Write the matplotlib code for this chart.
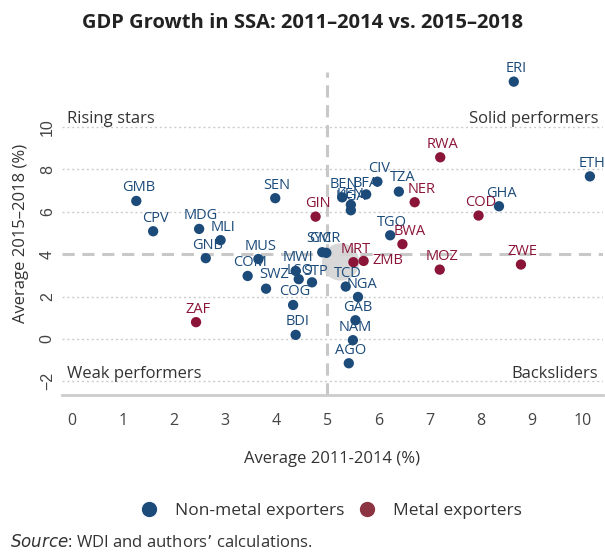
import matplotlib
matplotlib.use('Agg')
import matplotlib.pyplot as plt
from matplotlib.lines import Line2D

plt.rcParams['font.family'] = ['Open Sans', 'DejaVu Sans']

_BLUE = '#1c4b7a'
_RED = '#8a1538'
_RED_LEG = '#8c3441'
_TEXT = '#333333'
_TICK = '#444444'
_GRID = '#cccccc'
_REF = '#c8c8c8'

# country data: average growth 2011-2014 (x) vs 2015-2018 (y)
non_metal = ['ERI', 'ETH', 'GHA', 'CIV', 'TZA', 'BFA', 'BEN', 'KEN', 'UGA',
             'SEN', 'GMB', 'CPV', 'MDG', 'MLI', 'GNB', 'TGO', 'SYC', 'CMR',
             'MUS', 'COM', 'SWZ', 'MWI', 'LSO', 'STP', 'COG', 'BDI', 'TCD',
             'NGA', 'GAB', 'NAM', 'AGO']
non_metal_x = [8.65, 10.14, 8.36, 5.98, 6.40, 5.76, 5.29, 5.46, 5.46,
               3.98, 1.26, 1.59, 2.49, 2.91, 2.62, 6.23, 4.90, 4.98,
               3.65, 3.44, 3.80, 4.38, 4.44, 4.70, 4.33, 4.38, 5.36,
               5.60, 5.55, 5.50, 5.42]
non_metal_y = [12.14, 7.67, 6.26, 7.42, 6.95, 6.82, 6.68, 6.33, 6.07,
               6.64, 6.51, 5.08, 5.19, 4.66, 3.81, 4.89, 4.09, 4.06,
               3.77, 2.97, 2.37, 3.21, 2.82, 2.67, 1.60, 0.19, 2.47,
               1.98, 0.88, -0.06, -1.15]

metal = ['RWA', 'NER', 'COD', 'GIN', 'BWA', 'MRT', 'ZMB', 'MOZ', 'ZWE', 'ZAF']
metal_x = [7.21, 6.71, 7.96, 4.77, 6.47, 5.51, 5.71, 7.20, 8.79, 2.43]
metal_y = [8.57, 6.45, 5.82, 5.77, 4.47, 3.62, 3.68, 3.27, 3.51, 0.79]

ssa_avg_x = [5.26]
ssa_avg_y = [3.63]

x_ticks = list(range(0, 11))
y_ticks = [-2, 0, 2, 4, 6, 8, 10]

# label nudges in pixels (default is straight above the dot)
nudge = {'ZMB': (24, 0), 'BWA': (7, 13), 'NER': (7, 13), 'SWZ': (8, 14),
         'TZA': (4, 14), 'NGA': (4, 12), 'LSO': (1, 9), 'STP': (4, 11),
         'SYC': (-3, 14), 'CMR': (-2, 14), 'KEN': (0, 10), 'UGA': (0, 14),
         'BFA': (0, 11)}

fig = plt.figure(figsize=(6.05, 5.53), dpi=100)
ax = fig.add_axes([0.102, 0.286, 0.895, 0.584])

ax.set_xlim(-0.2, 10.4)
ax.set_ylim(-2.64, 12.6)

for y in y_ticks:
    if y != 4:
        ax.axhline(y, color=_GRID, lw=1, ls=(0, (1.5, 2)), zorder=0)
ax.axhline(4, color=_REF, lw=2.2, ls=(0, (4, 2.5)), zorder=1)
ax.axvline(5, color=_REF, lw=2.2, ls=(0, (4, 2.5)), zorder=1)

ax.scatter(ssa_avg_x, ssa_avg_y, s=720, color='#d4d4d4', alpha=0.9,
           edgecolor='none', zorder=2)

for names, xs, ys, col in ((non_metal, non_metal_x, non_metal_y, _BLUE),
                           (metal, metal_x, metal_y, _RED)):
    ax.scatter(xs, ys, s=55, color=col, edgecolor='none', zorder=3)
    for n, x, y in zip(names, xs, ys):
        dx, dy = nudge.get(n, (2, 13))
        ax.annotate(n, (x, y), xytext=(dx, dy), textcoords='offset pixels',
                    ha='center', va='center', fontsize=10.5, color=col,
                    zorder=4)

# quadrant captions
cap = dict(fontsize=12, color=_TEXT, zorder=4)
ax.text(-0.1, 10.0, 'Rising stars', ha='left', va='bottom', **cap)
ax.text(10.3, 10.0, 'Solid performers', ha='right', va='bottom', **cap)
ax.text(-0.1, -2.05, 'Weak performers', ha='left', va='bottom', **cap)
ax.text(10.3, -2.05, 'Backsliders', ha='right', va='bottom', **cap)

for side in ('top', 'right', 'left'):
    ax.spines[side].set_visible(False)
ax.spines['bottom'].set_color(_GRID)
ax.spines['bottom'].set_linewidth(2)

ax.set_xticks(x_ticks)
ax.set_yticks(y_ticks)
ax.tick_params(axis='x', length=0, pad=13, labelsize=11.5, labelcolor=_TICK)
ax.tick_params(axis='y', length=0, pad=5, labelsize=11.5, labelcolor=_TICK)
for lbl in ax.get_yticklabels():
    lbl.set_rotation(90)
    lbl.set_va('center')
    lbl.set_family(['Liberation Sans'])

ax.set_xlabel('Average 2011-2014 (%)', fontsize=12, color=_TEXT, labelpad=16)
ax.set_ylabel('Average 2015–2018 (%)', fontsize=12, color=_TEXT, labelpad=8)

fig.suptitle('GDP Growth in SSA: 2011–2014 vs. 2015–2018', x=0.5, y=0.976,
             fontsize=14.5, fontweight='bold', color='#222222')

handles = [Line2D([], [], marker='o', ls='', color=_BLUE, markersize=10,
                  label='Non-metal exporters'),
           Line2D([], [], marker='o', ls='', color=_RED_LEG, markersize=10,
                  label='Metal exporters')]
fig.legend(handles=handles, loc='center', bbox_to_anchor=(0.54, 0.076), ncol=2,
           frameon=False, fontsize=12.5, labelcolor=_TEXT, handletextpad=0.5,
           columnspacing=0.3)

fig.text(0.017, 0.004, r'$\it{Source}$: WDI and authors’ calculations.',
         fontsize=12, color=_TEXT, ha='left', va='bottom')

fig.savefig('out.png', dpi=100)
